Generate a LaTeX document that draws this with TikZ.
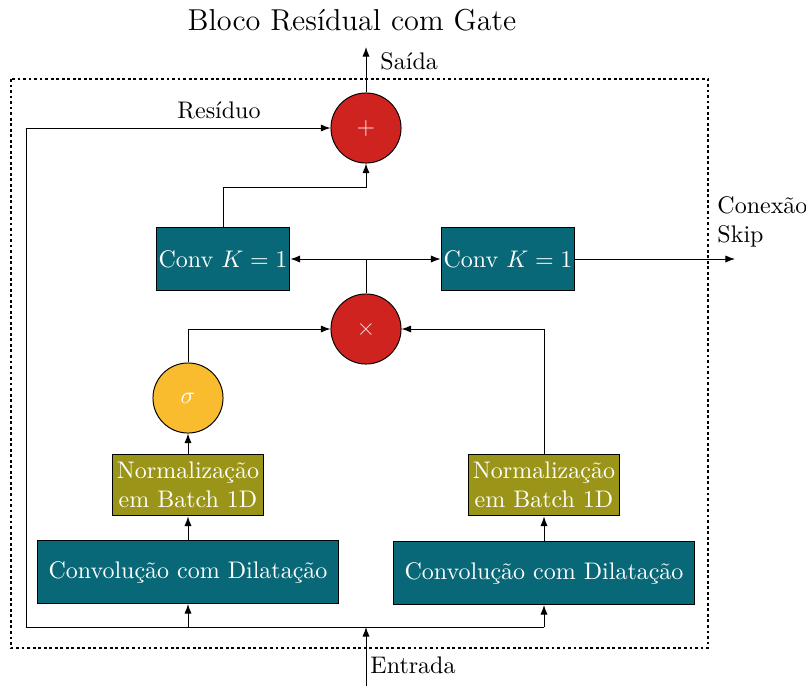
\documentclass[tikz,border=0pt]{standalone}
\usetikzlibrary{arrows.meta}
\definecolor{tealbox}{HTML}{086878}
\definecolor{olivebox}{HTML}{9A9519}
\definecolor{opred}{HTML}{CF231F}
\definecolor{sigyellow}{HTML}{F8BC2E}
\begin{document}
\begin{tikzpicture}[x=0.41667pt,y=-0.41667pt,
  >={Latex[length=4pt,width=3pt]},
  line width=0.4pt,
  block/.style={draw=black, text=white, align=center, inner sep=0pt},
  convbox/.style={block, fill=tealbox, minimum width=125.4pt, minimum height=26.25pt},
  normbox/.style={block, fill=olivebox, minimum width=62.9pt, minimum height=25.8pt},
  kbox/.style={block, fill=tealbox, minimum width=55.8pt, minimum height=26.25pt},
  opnode/.style={circle, draw=black, fill=opred, text=white!85!opred, minimum size=29.2pt, inner sep=0pt},
  signode/.style={circle, draw=black, fill=sigyellow, text=white, minimum size=29.2pt, inner sep=0pt},
  lbl/.style={inner sep=0pt},
  frame/.style={draw=black, line width=0.6pt, dash pattern=on 1.2pt off 1.1pt}
]
\useasboundingbox (0,0) rectangle (806,686);

% title and outer frame
\node[lbl] (title) at (352,20) {\fontsize{12.6}{15}\selectfont Bloco Resídual com Gate};
\draw[frame] (11,79) rectangle (708,648);

% operation nodes
\node[opnode] (plus) at (366,128) {$+$};
\node[opnode] (times) at (366,329) {$\times$};
\node[signode] (sigma) at (188,398) {$\sigma$};

% blocks
\node[kbox] (k1) at (223,259) {Conv $K=1$};
\node[kbox] (k2) at (508,259) {Conv $K=1$};
\node[normbox] (n1) at (188,485) {Normalização\\em Batch 1D};
\node[normbox] (n2) at (544,485) {Normalização\\em Batch 1D};
\node[convbox] (c1) at (188,572) {Convolução com Dilatação};
\node[convbox] (c2) at (544,573) {Convolução com Dilatação};

% free ends and junctions
\coordinate (out) at (366,47);
\coordinate (in) at (366,686);
\coordinate (skipend) at (735,259);
\coordinate (resleft) at (26,627);
\coordinate (resright) at (544,627);
\coordinate (split) at (366,259);

% labels
\node[lbl, anchor=west] (saida) at (380,61) {Saída};
\node[lbl] (residuo) at (219,110) {Resíduo};
\node[lbl, anchor=west] (entrada) at (370,665) {Entrada};
\node[lbl, anchor=west, align=left] (skip) at (717,222) {Conexão\\Skip};

% input bus and residual path
\draw (resleft) -- (resright);
\draw[->] (in) -- (366,627);
\draw[->] (resleft) |- (plus.west);
\draw[->] (c1.south |- resleft) -- (c1.south);
\draw[->] (resright) -- (c2.south);

% left branch: conv -> norm -> sigma -> multiply
\draw[->] (c1) -- (n1);
\draw[->] (n1) -- (sigma);
\draw[->] (sigma.north) |- (times.west);

% right branch: conv -> norm -> multiply
\draw[->] (c2) -- (n2);
\draw[->] (n2.north) |- (times.east);

% product split to the two 1x1 convolutions
\draw (times.north) -- (split);
\draw[->] (split) -- (k1.east);
\draw[->] (split) -- (k2.west);

% residual output and skip connection
\draw[->] (k1.north) |- (366,187) -- (plus.south);
\draw[->] (plus.north) -- (out);
\draw[->] (k2.east) -- (skipend);
\end{tikzpicture}
\end{document}
